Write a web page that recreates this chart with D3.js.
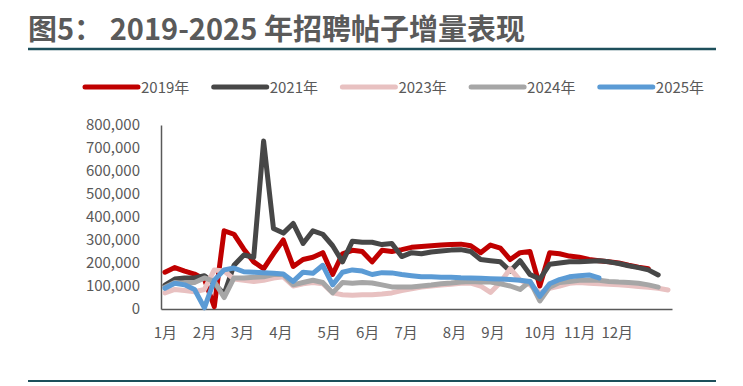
<!DOCTYPE html>
<html>
<head>
<meta charset="utf-8">
<script src="https://cdn.jsdelivr.net/npm/d3@7"></script>
<style>
  body { margin: 0; background: #fff; }
  text { font-family: "Noto Sans CJK SC", "Noto Sans", sans-serif; }
</style>
</head>
<body>
<script>
// weekly new job postings
var s2019 = [160000,180000,165000,152000,130000,10000,340000,325000,260000,205000,
  175000,240000,300000,185000,215000,225000,245000,150000,240000,255000,
  250000,205000,255000,250000,258000,268000,272000,275000,278000,280000,
  282000,275000,245000,278000,265000,215000,245000,250000,100000,245000,
  240000,230000,225000,215000,210000,205000,200000,190000,182000,175000];
var s2021 = [104000,130000,135000,135000,145000,110000,65000,190000,235000,225000,
  730000,350000,330000,372000,285000,340000,325000,275000,205000,295000,
  290000,290000,280000,285000,228000,245000,240000,248000,252000,256000,
  258000,250000,215000,210000,205000,165000,210000,150000,130000,195000,
  200000,205000,205000,208000,210000,205000,198000,188000,180000,170000,148000];
var s2023 = [70000,85000,80000,75000,85000,170000,165000,130000,125000,120000,
  125000,135000,140000,100000,110000,115000,110000,70000,62000,60000,
  62000,62000,65000,70000,80000,88000,96000,100000,104000,108000,
  112000,113000,100000,72000,115000,175000,125000,105000,70000,90000,
  100000,112000,115000,112000,110000,108000,105000,102000,98000,95000,90000,83000];
var s2024 = [95000,115000,112000,115000,135000,120000,50000,135000,135000,138000,
  140000,150000,150000,105000,115000,125000,115000,70000,115000,112000,
  115000,113000,105000,96000,96000,96000,100000,104000,110000,113000,
  117000,120000,117000,117000,110000,100000,85000,120000,35000,95000,
  115000,120000,125000,125000,125000,120000,117000,115000,112000,105000,95000];
var s2025 = [90000,112000,105000,85000,5000,125000,170000,178000,162000,160000,
  158000,155000,152000,120000,160000,155000,190000,105000,160000,170000,
  165000,150000,158000,157000,150000,145000,140000,140000,138000,138000,
  136000,135000,134000,132000,130000,128000,125000,120000,55000,110000,
  128000,140000,145000,148000,135000];

var seriesNames = ["2019年", "2021年", "2023年", "2024年", "2025年"];
var seriesColors = ["#c00000", "#474747", "#e8c1c1", "#a6a6a6", "#5b9bd5"];
var seriesValues = [s2019, s2021, s2023, s2024, s2025];

var yTicks = [0,100000,200000,300000,400000,500000,600000,700000,800000];
var monthLabels = ["1月","2月","3月","4月","5月","6月","7月","8月","9月","10月","11月","12月"];
// week index under each month label
var monthWeeks = [0, 3.96, 7.8, 11.7, 16.6, 20.5, 24.4, 29.3, 33.2, 38.0, 42.0, 45.8];

var width = 743, height = 386;
var svg = d3.select("body").append("svg")
  .attr("width", width)
  .attr("height", height);

// title and rules
svg.append("text")
  .attr("x", 28).attr("y", 40)
  .attr("font-size", "29px")
  .attr("font-weight", "bold")
  .attr("fill", "#5a5a5a")
  .text("图5： 2019-2025 年招聘帖子增量表现");

svg.append("line")
  .attr("x1", 28).attr("x2", 716).attr("y1", 49).attr("y2", 49)
  .attr("stroke", "#1d4f5b").attr("stroke-width", 2.5);
svg.append("line")
  .attr("x1", 28).attr("x2", 716).attr("y1", 381).attr("y2", 381)
  .attr("stroke", "#1d4f5b").attr("stroke-width", 2);

var x = d3.scaleLinear().domain([-0.4, 51.4]).range([161, 672]);
var y = d3.scaleLinear().domain([0, 800000]).range([309, 125]);

// y axis
var yAxis = svg.append("g")
  .attr("transform", "translate(161,0)")
  .call(d3.axisLeft(y).tickValues(yTicks).tickSize(0).tickPadding(21)
    .tickFormat(d3.format(",")));
yAxis.select(".domain").attr("stroke", "#595959").attr("stroke-width", 1.5);
yAxis.selectAll("text").attr("font-size", "15px").attr("fill", "#595959")
  .attr("font-family", "\"Noto Sans\", sans-serif");

// x axis
var xAxis = svg.append("g")
  .attr("transform", "translate(0,309)")
  .call(d3.axisBottom(x).tickValues(monthWeeks).tickSize(0).tickPadding(18)
    .tickFormat(function (d, i) { return monthLabels[i]; }));
xAxis.select(".domain").attr("stroke", "#595959").attr("stroke-width", 1.5);
xAxis.selectAll("text").attr("font-size", "15px").attr("fill", "#595959");

// lines
var line = d3.line()
  .x(function (d, i) { return x(i); })
  .y(function (d) { return y(d); });

svg.selectAll("path.series")
  .data(seriesValues)
  .enter()
  .append("path")
  .attr("class", "series")
  .attr("d", line)
  .attr("fill", "none")
  .attr("stroke", function (d, i) { return seriesColors[i]; })
  .attr("stroke-width", 5)
  .attr("stroke-linejoin", "round")
  .attr("stroke-linecap", "round");

// legend
var legend = svg.selectAll("g.legend")
  .data(seriesNames)
  .enter()
  .append("g")
  .attr("class", "legend")
  .attr("transform", function (d, i) { return "translate(" + (85 + i * 128.7) + ",87)"; });

legend.append("line")
  .attr("x1", 0).attr("x2", 53)
  .attr("stroke", function (d, i) { return seriesColors[i]; })
  .attr("stroke-width", 5)
  .attr("stroke-linecap", "round");

legend.append("text")
  .attr("x", 56).attr("y", 6)
  .attr("font-size", "15px")
  .attr("fill", "#595959")
  .text(function (d) { return d; });
</script>
</body>
</html>
